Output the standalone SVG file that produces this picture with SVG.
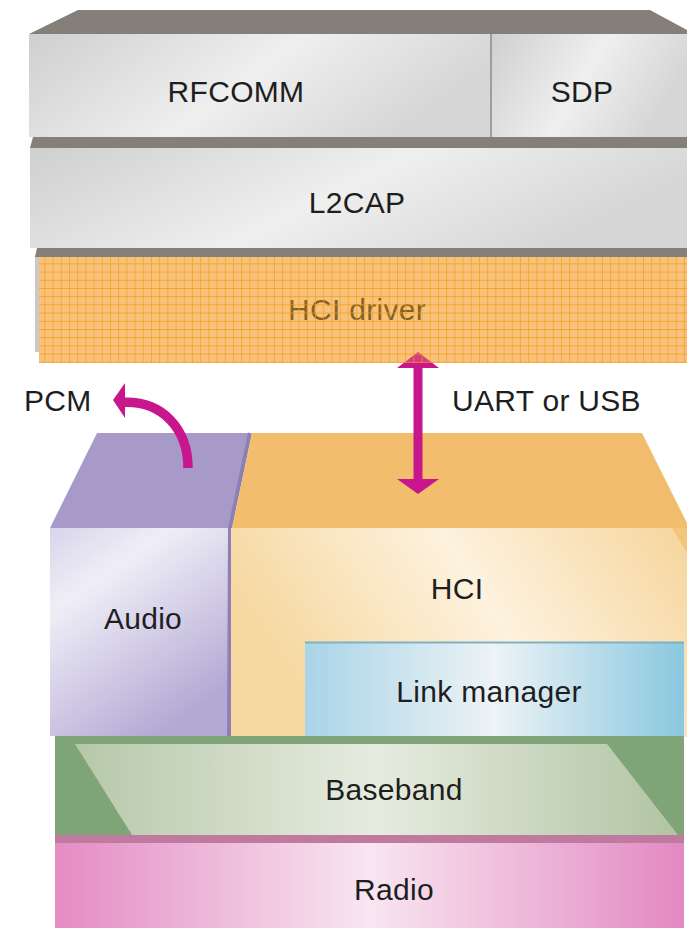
<svg xmlns="http://www.w3.org/2000/svg" width="687" height="928" viewBox="0 0 687 928">
  <style>
    .lbl { font-family: "Liberation Sans", Arial, Helvetica, sans-serif; font-size: 30px; fill: #1e1e1e; text-anchor: middle; letter-spacing: 0.3px; }
    .lbl-start { text-anchor: start; }
    .face-gray { fill: #857f7a; }
    .conn { fill: #c8168c; }
  </style>
  <defs>
    <linearGradient id="gGray" x1="0" y1="0" x2="1" y2="0.3">
      <stop offset="0" stop-color="#cfcfcf"/>
      <stop offset="0.55" stop-color="#efefef"/>
      <stop offset="1" stop-color="#d6d6d6"/>
    </linearGradient>
    <linearGradient id="gAudio" x1="0" y1="0" x2="0.6" y2="1">
      <stop offset="0" stop-color="#d9d4ea"/>
      <stop offset="0.3" stop-color="#efeef7"/>
      <stop offset="1" stop-color="#b4a9d4"/>
    </linearGradient>
    <linearGradient id="gHci" x1="0" y1="0.3" x2="1" y2="0">
      <stop offset="0" stop-color="#f6d8a0"/>
      <stop offset="0.5" stop-color="#fdf2de"/>
      <stop offset="1" stop-color="#f6d59c"/>
    </linearGradient>
    <linearGradient id="gLink" x1="0" y1="0" x2="1" y2="0">
      <stop offset="0" stop-color="#a9d4e7"/>
      <stop offset="0.5" stop-color="#edf3f6"/>
      <stop offset="1" stop-color="#8ac8df"/>
    </linearGradient>
    <linearGradient id="gBase" x1="0" y1="0" x2="1" y2="0">
      <stop offset="0" stop-color="#b6c8a9"/>
      <stop offset="0.5" stop-color="#e6ece0"/>
      <stop offset="1" stop-color="#b1c4a3"/>
    </linearGradient>
    <linearGradient id="gRadio" x1="0" y1="0" x2="1" y2="0">
      <stop offset="0" stop-color="#e48cc4"/>
      <stop offset="0.5" stop-color="#f8e6f1"/>
      <stop offset="1" stop-color="#e389c2"/>
    </linearGradient>
    <pattern id="grid" x="274" y="288" width="8.2" height="8.2" patternUnits="userSpaceOnUse">
      <path d="M0,0 H8.2 M0,0 V8.2" stroke="#f39a14" stroke-width="1.2" fill="none"/>
    </pattern>
  </defs>

  <!-- host stack -->
  <g id="rfcomm">
    <polygon class="face-gray" points="78,10 650,10 687,30 687,34 29,34"/>
    <rect x="29" y="34" width="462" height="103" fill="url(#gGray)"/>
    <text class="lbl" x="236" y="102">RFCOMM</text>
  </g>
  <g id="sdp">
    <rect x="491" y="34" width="196" height="103" fill="url(#gGray)"/>
    <line x1="491" y1="34" x2="491" y2="137" stroke="#8e8a86" stroke-width="1.5"/>
    <text class="lbl" x="582" y="102">SDP</text>
  </g>
  <g id="l2cap">
    <polygon class="face-gray" points="33,137 687,137 687,148 30,148"/>
    <rect x="30" y="148" width="657" height="100" fill="url(#gGray)"/>
    <text class="lbl" x="357" y="213">L2CAP</text>
  </g>
  <g id="hci-driver">
    <polygon class="face-gray" points="37,248 687,248 687,257 35,257"/>
    <rect x="35" y="257" width="652" height="95" fill="#c9c9c9"/>
    <rect x="39" y="257" width="648" height="106" fill="#f9c784"/>
    <text class="lbl" x="357" y="320" style="fill:#5c4718">HCI driver</text>
  </g>

  <!-- controller stack -->
  <g id="audio">
    <polygon points="97,433 250,433 230,528 50,528" fill="#a89ac8"/>
    <rect x="50" y="528" width="178" height="208" fill="url(#gAudio)"/>
    <polyline points="250,433 230,528 229,736" fill="none" stroke="#8c80b4" stroke-width="4"/>
    <text class="lbl" x="143" y="629">Audio</text>
  </g>
  <g id="hci">
    <polygon points="252,433 642,433 687,523 687,528 232,528" fill="#f2be6e"/>
    <rect x="231" y="528" width="456" height="209" fill="url(#gHci)"/>
    <polygon points="672,528 687,528 687,553" fill="#f5c47c"/>
    <text class="lbl" x="457" y="599">HCI</text>
  </g>
  <g id="link-manager">
    <rect x="305" y="642" width="379" height="94" fill="url(#gLink)"/>
    <line x1="305" y1="642.5" x2="684" y2="642.5" stroke="#7fb0c4" stroke-width="2"/>
    <text class="lbl" x="489" y="702">Link manager</text>
  </g>
  <g id="baseband">
    <rect x="55" y="736" width="629" height="100" fill="#7ea478"/>
    <polygon points="75,744 607,744 678,835 132,835" fill="url(#gBase)"/>
    <text class="lbl" x="394" y="800">Baseband</text>
  </g>
  <g id="radio">
    <rect x="55" y="835" width="629" height="9" fill="#c07aa0"/>
    <rect x="55" y="843" width="629" height="85" fill="url(#gRadio)"/>
    <text class="lbl" x="394" y="900">Radio</text>
  </g>

  <!-- external labels -->
  <g id="pcm-label">
    <text class="lbl lbl-start" x="24" y="411">PCM</text>
  </g>
  <g id="uart-label">
    <text class="lbl lbl-start" x="452" y="411">UART or USB</text>
  </g>

  <!-- connectors -->
  <g id="connectors">
    <g id="pcm-arrow">
      <path d="M122,402.5 C163,400 188,430 188,468" fill="none" stroke="#c8168c" stroke-width="9.5"/>
      <polygon class="conn" points="113,400 125,383 125,418"/>
    </g>
    <g id="uart-arrow">
      <rect class="conn" x="413.5" y="366" width="9" height="115"/>
      <polygon class="conn" points="397,368 439,368 418,352"/>
      <polygon class="conn" points="397,479 439,479 418,494"/>
    </g>
  </g>

  <!-- grid texture over the HCI driver layer -->
  <g id="hci-driver-grid">
    <rect x="39" y="257" width="648" height="106" fill="#f7b45a" opacity="0.25"/>
    <rect x="39" y="257" width="648" height="106" fill="url(#grid)"/>
  </g>
</svg>
